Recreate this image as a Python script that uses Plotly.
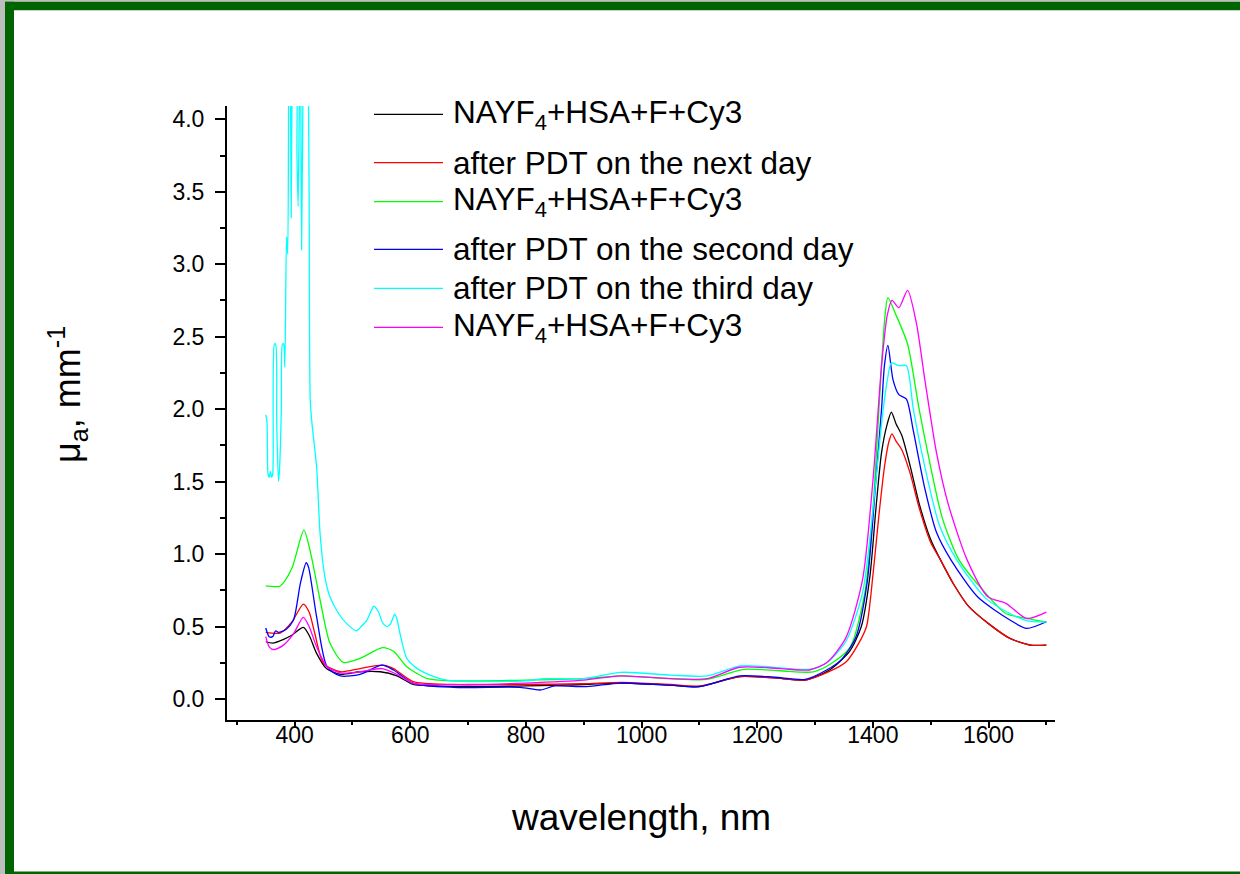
import plotly.graph_objects as go

# ---------------- data ----------------
labels = ["NAYF<sub>4</sub>+HSA+F+Cy3", "after PDT on the next day", "NAYF<sub>4</sub>+HSA+F+Cy3",
          "after PDT on the second day", "after PDT on the third day", "NAYF<sub>4</sub>+HSA+F+Cy3"]
colors = ["#000000", "#FF0000", "#00FF00", "#0000FF", "#00FFFF", "#FF00FF"]

wl_black = [350, 362, 380, 395, 415, 425, 438, 455, 479, 513, 548, 577, 605, 640, 700, 800, 900, 965, 1050,
            1100, 1170, 1230, 1283, 1325, 1360, 1380, 1395, 1405, 1415, 1425, 1432, 1440, 1450, 1465, 1480,
            1500, 1517, 1540, 1566, 1600, 1637, 1673, 1700]
mu_black = [0.395, 0.385, 0.41, 0.44, 0.494, 0.44, 0.315, 0.21, 0.17, 0.188, 0.188, 0.16, 0.10, 0.09, 0.085,
            0.09, 0.10, 0.11, 0.095, 0.085, 0.155, 0.145, 0.13, 0.20, 0.33, 0.50, 0.85, 1.30, 1.70, 1.90, 1.98,
            1.90, 1.82, 1.60, 1.35, 1.10, 0.96, 0.79, 0.637, 0.52, 0.418, 0.372, 0.372]

wl_red = [350, 375, 395, 415, 425, 435, 450, 479, 513, 552, 571, 605, 675, 800, 900, 965, 1050, 1100, 1170,
          1230, 1283, 1325, 1354, 1375, 1389, 1400, 1410, 1420, 1428, 1433, 1440, 1450, 1465, 1480, 1500,
          1517, 1540, 1566, 1600, 1637, 1673, 1700]
mu_red = [0.46, 0.455, 0.53, 0.655, 0.60, 0.45, 0.246, 0.188, 0.21, 0.234, 0.21, 0.12, 0.10, 0.10, 0.105,
          0.115, 0.10, 0.09, 0.155, 0.145, 0.13, 0.19, 0.257, 0.38, 0.50, 0.85, 1.25, 1.60, 1.78, 1.83, 1.78,
          1.72, 1.55, 1.32, 1.08, 0.96, 0.79, 0.637, 0.52, 0.418, 0.372, 0.372]

wl_green = [350, 375, 395, 416, 428, 444, 461, 484, 513, 552, 571, 594, 628, 675, 800, 900, 963, 1050, 1113,
            1177, 1240, 1297, 1330, 1361, 1386, 1400, 1412, 1420, 1426, 1440, 1460, 1480, 1500, 1520, 1549,
            1595, 1630, 1666, 1700]
mu_green = [0.78, 0.78, 0.90, 1.165, 1.00, 0.683, 0.386, 0.253, 0.28, 0.354, 0.33, 0.223, 0.143, 0.125, 0.13,
            0.14, 0.159, 0.14, 0.135, 0.205, 0.195, 0.187, 0.25, 0.36, 0.73, 1.30, 2.10, 2.60, 2.77, 2.65,
            2.45, 2.00, 1.60, 1.25, 0.96, 0.73, 0.59, 0.556, 0.53]

wl_blue = [350, 356, 362, 367, 372, 385, 398, 410, 420, 424, 438, 456, 479, 513, 551, 571, 605, 675, 790, 825,
           850, 905, 963, 1050, 1100, 1170, 1230, 1283, 1320, 1345, 1370, 1390, 1405, 1415, 1420, 1426, 1435,
           1445, 1458, 1470, 1490, 1510, 1535, 1581, 1637, 1666, 1700]
mu_blue = [0.49, 0.43, 0.43, 0.47, 0.46, 0.48, 0.545, 0.80, 0.94, 0.91, 0.567, 0.223, 0.159, 0.17, 0.234, 0.20,
           0.108, 0.08, 0.08, 0.062, 0.09, 0.085, 0.11, 0.095, 0.085, 0.16, 0.15, 0.135, 0.20, 0.27, 0.42, 0.80,
           1.50, 2.00, 2.30, 2.44, 2.20, 2.10, 2.07, 1.85, 1.45, 1.15, 0.96, 0.705, 0.545, 0.487, 0.533]

wl_cyan = [350, 352, 354, 356, 358, 360, 362, 365, 367, 369, 372, 374, 377, 379, 381, 383, 386, 388, 390, 392,
           394, 396, 399, 402, 404, 406, 408, 410, 412, 415, 418, 420, 422, 425, 427, 430, 438, 444, 452, 461,
           476, 490, 507, 515, 525, 537, 545, 553, 560, 566, 573, 577, 582, 594, 611, 634, 663, 700, 800, 830,
           900, 964, 1050, 1113, 1170, 1211, 1290, 1320, 1353, 1382, 1400, 1415, 1425, 1432, 1445, 1458, 1470,
           1490, 1515, 1545, 1595, 1637, 1666, 1700]
mu_cyan = [1.96, 1.92, 1.55, 1.53, 1.57, 1.53, 1.55, 2.45, 2.45, 1.90, 1.50, 1.60, 2.00, 2.45, 2.45, 2.29,
           3.19, 3.07, 4.50, 4.80, 3.32, 4.50, 5.00, 5.00, 3.77, 3.40, 4.05, 4.60, 3.10, 4.50, 5.50, 5.60, 5.20,
           3.50, 2.06, 1.90, 1.60, 1.14, 0.85, 0.705, 0.59, 0.52, 0.47, 0.50, 0.545, 0.64, 0.60, 0.52, 0.50,
           0.52, 0.585, 0.55, 0.455, 0.28, 0.213, 0.165, 0.13, 0.12, 0.125, 0.14, 0.14, 0.184, 0.165, 0.159,
           0.228, 0.225, 0.205, 0.25, 0.395, 0.73, 1.30, 1.90, 2.20, 2.32, 2.30, 2.30, 2.00, 1.60, 1.20, 0.96,
           0.696, 0.59, 0.54, 0.53]

wl_magenta = [350, 356, 364, 380, 398, 415, 425, 438, 456, 479, 513, 551, 577, 605, 700, 800, 900, 963, 1050,
              1113, 1170, 1240, 1290, 1320, 1353, 1382, 1400, 1415, 1425, 1433, 1445, 1460, 1475, 1490, 1510,
              1530, 1563, 1599, 1630, 1666, 1700]
mu_magenta = [0.43, 0.36, 0.34, 0.37, 0.45, 0.563, 0.50, 0.36, 0.223, 0.18, 0.188, 0.21, 0.17, 0.11, 0.10,
              0.11, 0.13, 0.16, 0.14, 0.14, 0.219, 0.21, 0.20, 0.25, 0.42, 0.82, 1.50, 2.30, 2.65, 2.75, 2.70,
              2.82, 2.60, 2.20, 1.70, 1.35, 0.96, 0.705, 0.66, 0.556, 0.60]

series_x = [wl_black, wl_red, wl_green, wl_blue, wl_cyan, wl_magenta]
series_y = [mu_black, mu_red, mu_green, mu_blue, mu_cyan, mu_magenta]

x_ticks = [400, 600, 800, 1000, 1200, 1400, 1600]
y_ticks = [0.0, 0.5, 1.0, 1.5, 2.0, 2.5, 3.0, 3.5, 4.0]
x_range = [283, 1715]
y_range = [-0.145, 4.092]

# ---------------- layout geometry (pixels) ----------------
W, H = 1240, 874
L, R, T, B = 227, 1055, 106, 720
PW, PH = R - L, B - T
FONT = "Liberation Sans, Arial, sans-serif"


def px(x):
    return (x - L) / PW


def py(y):
    return (B - y) / PH


fig = go.Figure()
for xs, ys, c, lab in zip(series_x, series_y, colors, labels):
    fig.add_trace(go.Scatter(x=xs, y=ys, mode="lines", name=lab,
                             line=dict(color=c, width=1.3, shape="spline", smoothing=0.7),
                             showlegend=False))

shapes = []
# window-like frame
shapes.append(dict(type="rect", xref="paper", yref="paper", x0=px(0), x1=px(5), y0=py(874), y1=py(0),
                   fillcolor="#BEBEBE", line_width=0, layer="below"))
shapes.append(dict(type="rect", xref="paper", yref="paper", x0=px(0), x1=px(W), y0=py(1.7), y1=py(0),
                   fillcolor="#BEBEBE", line_width=0, layer="below"))
shapes.append(dict(type="rect", xref="paper", yref="paper", x0=px(5), x1=px(14), y0=py(874), y1=py(1.7),
                   fillcolor="#006400", line_width=0, layer="below"))
shapes.append(dict(type="rect", xref="paper", yref="paper", x0=px(5), x1=px(W), y0=py(10.3), y1=py(1.7),
                   fillcolor="#006400", line_width=0, layer="below"))
shapes.append(dict(type="rect", xref="paper", yref="paper", x0=px(5), x1=px(W), y0=py(874), y1=py(871.5),
                   fillcolor="#006400", line_width=0, layer="below"))

# manual legend
leg_y = [114.3, 162.7, 201.7, 249.3, 288.3, 327.3]
annotations = []
for yy, c, lab in zip(leg_y, colors, labels):
    shapes.append(dict(type="line", xref="paper", yref="paper", x0=px(374), x1=px(443), y0=py(yy), y1=py(yy),
                       line=dict(color=c, width=1.3)))
    annotations.append(dict(xref="paper", yref="paper", x=px(451), y=py(yy), text=lab, showarrow=False,
                            xanchor="left", yanchor="middle", font=dict(family=FONT, size=31.5, color="black")))

annotations.append(dict(xref="paper", yref="paper", x=0.5, y=py(817), text="wavelength, nm", showarrow=False,
                        xanchor="center", yanchor="middle", font=dict(family=FONT, size=37, color="black")))
annotations.append(dict(xref="paper", yref="paper", x=px(67), y=py(395), text="μ<sub>a</sub>, mm<sup>-1</sup>",
                        showarrow=False, textangle=-90, xanchor="center", yanchor="middle",
                        font=dict(family=FONT, size=36, color="black")))

fig.update_layout(
    width=W, height=H,
    margin=dict(l=L, r=W - R, t=T, b=H - B, pad=0),
    paper_bgcolor="white", plot_bgcolor="rgba(0,0,0,0)",
    shapes=shapes, annotations=annotations, showlegend=False,
    font=dict(family=FONT, color="black"),
)
fig.update_xaxes(range=x_range, tickvals=x_ticks, ticktext=[str(v) for v in x_ticks],
                 showline=True, linecolor="black", linewidth=2, ticks="outside", ticklen=6, tickwidth=2,
                 tickcolor="black", showgrid=False, zeroline=False, tickfont=dict(family=FONT, size=23),
                 ticklabelstandoff=-13,
                 minor=dict(ticks="outside", ticklen=3, tickwidth=1.5, tickcolor="black", dtick=100, tick0=300))
fig.update_yaxes(range=y_range, tickvals=y_ticks, ticktext=[f"{v:.1f}" for v in y_ticks],
                 showline=True, linecolor="black", linewidth=2, ticks="outside", ticklen=10, tickwidth=2,
                 tickcolor="black", showgrid=False, zeroline=False, tickfont=dict(family=FONT, size=23),
                 ticklabelstandoff=6,
                 minor=dict(ticks="outside", ticklen=5, tickwidth=1.5, tickcolor="black", dtick=0.25, tick0=0))

fig.write_html("out.html")
